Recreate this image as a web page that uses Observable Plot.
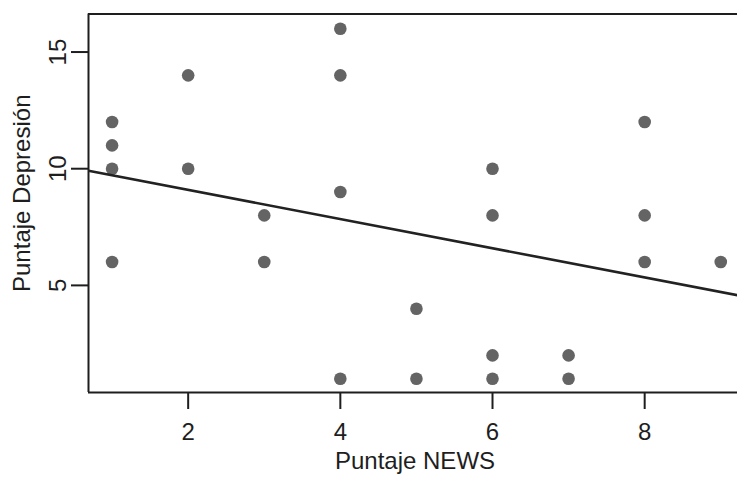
<!DOCTYPE html>
<html>
<head>
<meta charset="utf-8">
<script src="https://cdn.jsdelivr.net/npm/d3@7"></script>
<script src="https://cdn.jsdelivr.net/npm/@observablehq/plot@0.6"></script>
<style>
  html, body { margin: 0; padding: 0; background: #fff; }
  svg { display: block; }
</style>
</head>
<body>
<div id="chart"></div>
<script>
// NEWS score (x) and depression score (y) for each observation
const newsScore = [1, 1, 1, 1, 2, 2, 3, 3, 4, 4, 4, 4, 5, 5, 6, 6, 6, 6, 7, 7, 8, 8, 8, 9];
const depressionScore = [12, 11, 10, 6, 14, 10, 8, 6, 16, 14, 9, 1, 4, 1, 10, 8, 2, 1, 2, 1, 12, 8, 6, 6];

// Fitted line (ends of the visible segment)
const fitX = [0.69, 9.22];
const fitY = [9.91, 4.58];

const xTicks = [2, 4, 6, 8];
const yTicks = [5, 10, 15];
const xDomain = [0.69, 9.22];
const yDomain = [0.41, 16.63];
const xLabel = "Puntaje NEWS";
const yLabel = "Puntaje Depresión";

const points = newsScore.map((x, i) => ({x, y: depressionScore[i]}));
const fit = fitX.map((x, i) => ({x, y: fitY[i]}));

const ink = "#1e1e1e";

const chart = Plot.plot({
  width: 737,
  height: 478,
  marginLeft: 88,
  marginRight: 0,
  marginTop: 13.5,
  marginBottom: 86,
  style: {fontFamily: "'Liberation Sans', Arial, sans-serif", fontSize: "24px", color: ink, background: "#fff"},
  x: {domain: xDomain},
  y: {domain: yDomain},
  marks: [
    Plot.axisX({ticks: xTicks, tickSize: 17, tickPadding: 13, fontSize: 24, label: null, stroke: ink, strokeWidth: 2}),
    Plot.axisY({ticks: yTicks, tickSize: 17, tickPadding: 6, tickRotate: -90, fontSize: 24, label: null, stroke: ink, strokeWidth: 2}),
    Plot.ruleX([xDomain[0]], {stroke: ink, strokeWidth: 2}),
    Plot.ruleY(yDomain, {stroke: ink, strokeWidth: 2}),
    Plot.dot(points, {x: "x", y: "y", r: 6.3, fill: "#646464", stroke: null}),
    Plot.line(fit, {x: "x", y: "y", stroke: "#222", strokeWidth: 2.6, clip: true}),
    Plot.text([xLabel], {frameAnchor: "bottom", textAnchor: "middle", dx: 2, dy: 76, fontSize: 24, fill: ink}),
    Plot.text([yLabel], {frameAnchor: "left", textAnchor: "middle", dx: -66, dy: -10, rotate: -90, fontSize: 24, fill: ink})
  ]
});
document.getElementById("chart").appendChild(chart);
</script>
</body>
</html>
